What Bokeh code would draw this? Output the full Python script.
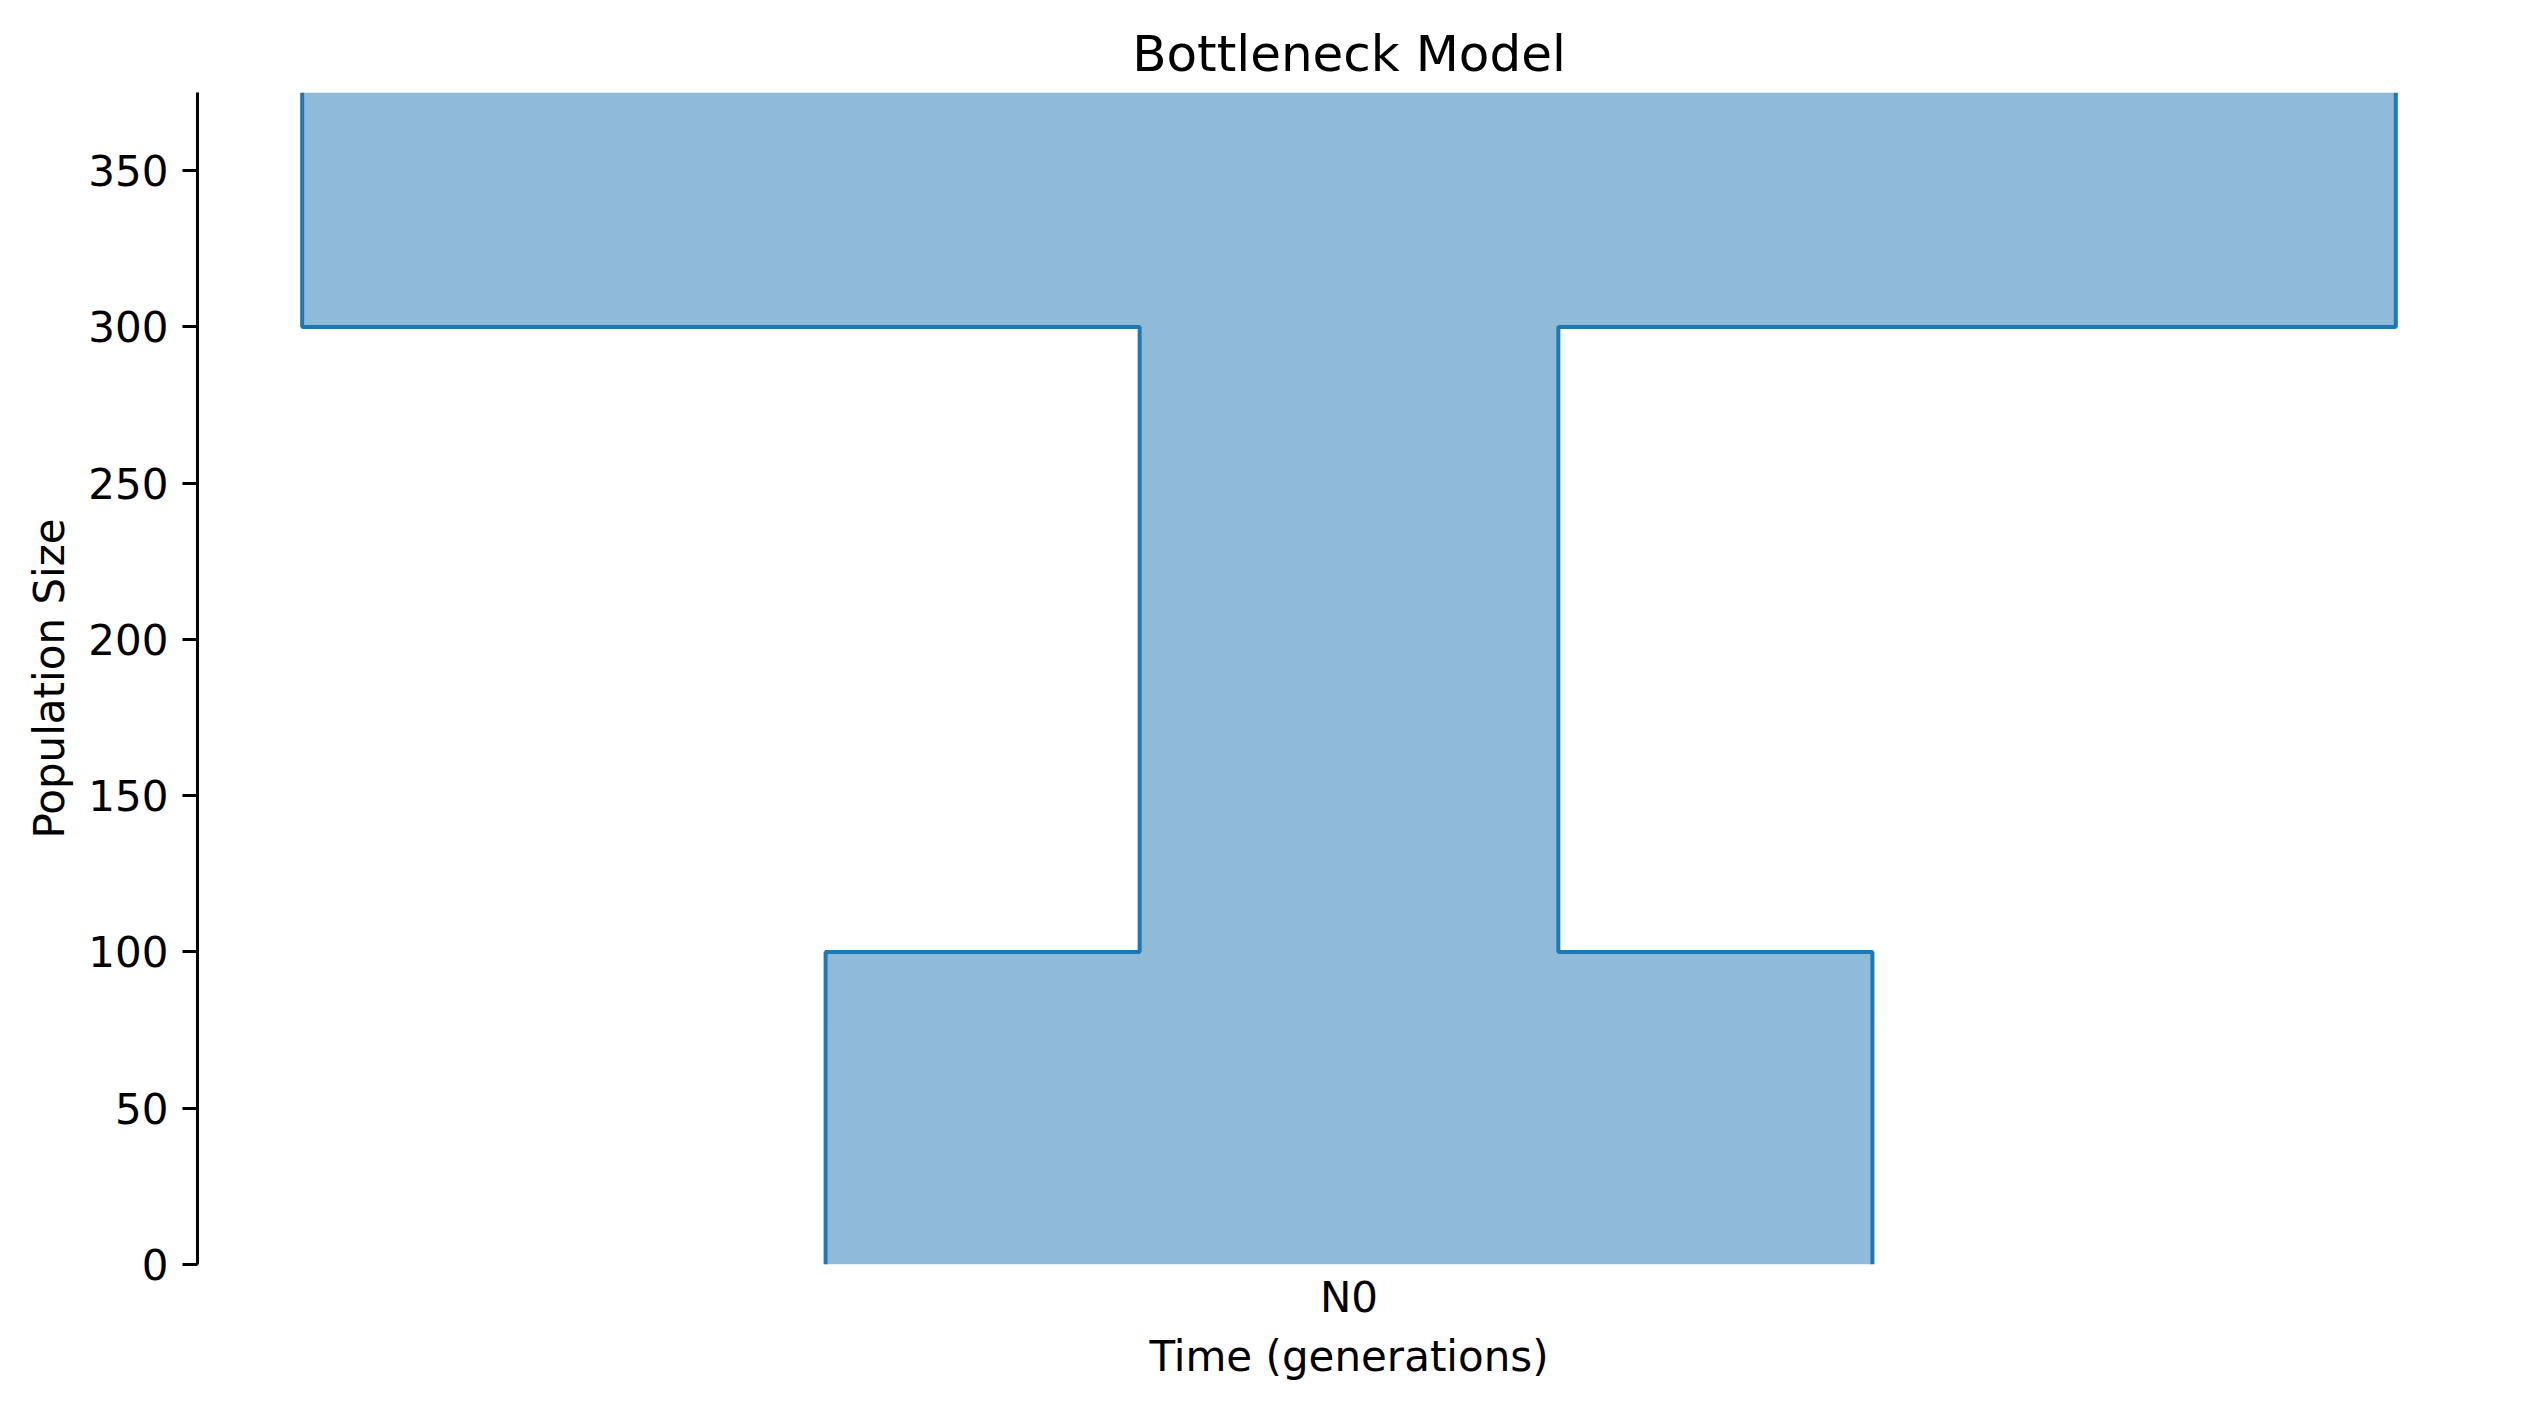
from bokeh.plotting import figure
from bokeh.models import Range1d, FixedTicker
from bokeh.embed import file_html
from bokeh.resources import INLINE

# ---- data ----
epoch_start = [float("inf"), 300, 100]   # older boundary of each epoch
epoch_end = [300, 100, 0]                # younger boundary of each epoch
epoch_size = [10000, 2000, 5000]         # drawn width of each epoch
deme_names = ["N0"]
deme_centers = [0]
y_ticks = [0, 50, 100, 150, 200, 250, 300, 350]
y_max = 375

FONT = "DejaVu Sans"
BLUE = "#1f77b4"

half_max = max(epoch_size) / 2.0
x_pad = 0.05 * max(epoch_size)

p = figure(width=2530, height=1409, output_backend="svg", toolbar_location=None,
           x_range=Range1d(-half_max - x_pad, half_max + x_pad),
           y_range=Range1d(0, y_max),
           min_border_left=197, min_border_right=30,
           min_border_top=92, min_border_bottom=145,
           title="Bottleneck Model")

p.background_fill_color = "white"
p.border_fill_color = "white"
p.outline_line_color = None
p.grid.visible = False

# build outline from epochs
starts = [min(s, y_max) for s in epoch_start]
right_x, right_y = [], []
for s, e, n in zip(starts, epoch_end, epoch_size):
    right_x += [deme_centers[0] + n / 2.0, deme_centers[0] + n / 2.0]
    right_y += [s, e]
left_x = [2 * deme_centers[0] - x for x in right_x]
left_y = list(right_y)

poly_x = right_x + left_x[::-1]
poly_y = right_y + left_y[::-1]
p.patch(poly_x, poly_y, fill_color=BLUE, fill_alpha=0.5, line_color=None)

# step outlines (sides only)
p.line(right_x, right_y, line_color=BLUE, line_width=4)
p.line(left_x, left_y, line_color=BLUE, line_width=4)

# title
p.title.text_font = FONT
p.title.text_font_size = "50px"
p.title.text_font_style = "normal"
p.title.align = "center"
p.title.text_color = "black"
p.title.standoff = 20

# y axis
ya = p.yaxis[0]
ya.ticker = FixedTicker(ticks=y_ticks)
ya.axis_label = "Population Size"
ya.axis_label_text_font = FONT
ya.axis_label_text_font_size = "42px"
ya.axis_label_text_font_style = "normal"
ya.axis_label_text_color = "black"
ya.axis_label_standoff = 11
ya.major_label_text_font = FONT
ya.major_label_text_font_size = "42px"
ya.major_label_text_color = "black"
ya.major_label_standoff = 14
ya.axis_line_width = 3
ya.axis_line_color = "black"
ya.major_tick_line_width = 3
ya.major_tick_line_color = "black"
ya.major_tick_out = 15
ya.major_tick_in = 0
ya.minor_tick_line_color = None

# x axis
xa = p.xaxis[0]
xa.ticker = FixedTicker(ticks=deme_centers)
xa.major_label_overrides = {c: n for c, n in zip(deme_centers, deme_names)}
xa.axis_label = "Time (generations)"
xa.axis_label_text_font = FONT
xa.axis_label_text_font_size = "42px"
xa.axis_label_text_font_style = "normal"
xa.axis_label_text_color = "black"
xa.axis_label_standoff = 7
xa.major_label_text_font = FONT
xa.major_label_text_font_size = "42px"
xa.major_label_text_color = "black"
xa.major_label_standoff = 8
xa.axis_line_color = None
xa.major_tick_line_color = None
xa.major_tick_out = 0
xa.major_tick_in = 0
xa.minor_tick_line_color = None

open("out.html", "w").write(file_html(p, INLINE))
